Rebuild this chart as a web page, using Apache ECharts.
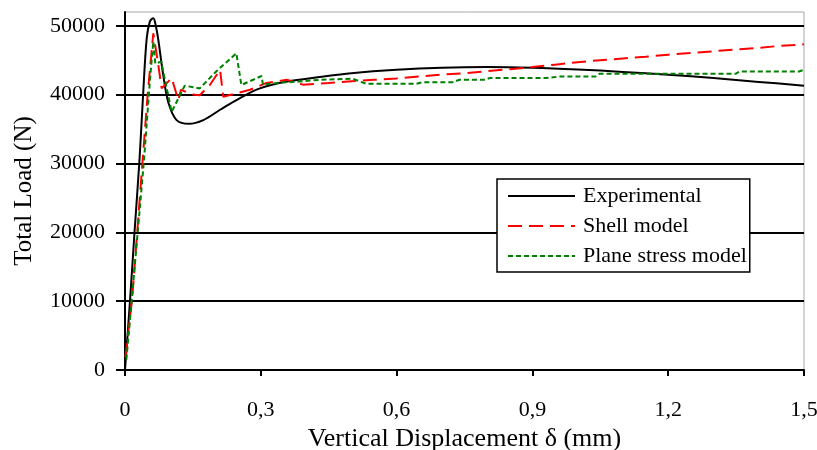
<!DOCTYPE html>
<html>
<head>
<meta charset="utf-8">
<script src="https://cdn.jsdelivr.net/npm/echarts@6/dist/echarts.min.js"></script>
<style>html,body{margin:0;padding:0;background:#fff}#c{width:817px;height:450px}</style>
</head>
<body>
<div id="c"></div>
<script>
const seriesNames = ['Experimental', 'Shell model', 'Plane stress model'];
const xTicks = [0, 0.3, 0.6, 0.9, 1.2, 1.5];
const yTicks = [0, 10000, 20000, 30000, 40000, 50000];

const expX = [0, 0.011, 0.021, 0.032, 0.040, 0.048, 0.055, 0.0625, 0.068, 0.0737, 0.085, 0.096, 0.114, 0.1413, 0.173, 0.21, 0.254, 0.298, 0.358, 0.43, 0.5, 0.6, 0.7, 0.8, 0.9, 1.0, 1.1, 1.2, 1.3, 1.4, 1.5];
const expY = [0, 10000, 20000, 30500, 40000, 48200, 50600, 51100, 50000, 47900, 42600, 38800, 36300, 35760, 36300, 37800, 39500, 40900, 41900, 42550, 43100, 43600, 43900, 44000, 43900, 43650, 43300, 42900, 42400, 41850, 41300];

const shellX = [0.001, 0.016, 0.039, 0.05, 0.0625, 0.072, 0.081, 0.103, 0.118, 0.1235, 0.15, 0.165, 0.1875, 0.21, 0.217, 0.246, 0.276, 0.3125, 0.357, 0.393, 0.45, 0.5, 0.55, 0.6, 0.65, 0.7, 0.75, 0.8, 0.85, 0.9, 0.95, 1.0, 1.05, 1.1, 1.15, 1.2, 1.25, 1.3, 1.35, 1.4, 1.45, 1.5];
const shellY = [1900, 10500, 30500, 40000, 48900, 45000, 40900, 42400, 39200, 40700, 40000, 39900, 41400, 43600, 39700, 40200, 40700, 41700, 42150, 41450, 41700, 41950, 42150, 42350, 42650, 42900, 43100, 43400, 43700, 44000, 44350, 44700, 45000, 45250, 45500, 45800, 46050, 46300, 46550, 46800, 47100, 47300];

const planeX = [0.003, 0.015, 0.042, 0.055, 0.0625, 0.067, 0.08, 0.103, 0.132, 0.165, 0.202, 0.246, 0.257, 0.3015, 0.305, 0.335, 0.386, 0.43, 0.503, 0.533, 0.643, 0.658, 0.724, 0.739, 0.798, 0.805, 0.93, 0.96, 1.04, 1.048, 1.349, 1.357, 1.489, 1.5];
const planeY = [1500, 10200, 30500, 42000, 47700, 44500, 44800, 37500, 41300, 40900, 43400, 46000, 41400, 42700, 41400, 41700, 41900, 42150, 42300, 41570, 41570, 41810, 41810, 42150, 42150, 42400, 42400, 42630, 42630, 43020, 43020, 43360, 43360, 43600];

const zip = (xs, ys) => xs.map((x, i) => [x, ys[i]]);
const FONT = 'Liberation Serif';

const chart = echarts.init(document.getElementById('c'));
chart.setOption({
  animation: false,
  backgroundColor: '#fff',
  grid: { left: 125, right: 13, top: 12, bottom: 80, show: true, borderColor: '#a6a6a6', borderWidth: 1, backgroundColor: 'transparent',
    outerBoundsMode: 'none', containLabel: false },
  xAxis: {
    type: 'value', min: xTicks[0], max: xTicks[xTicks.length - 1], interval: xTicks[1] - xTicks[0],
    name: 'Vertical Displacement δ (mm)', nameLocation: 'middle', nameGap: 56,
    nameTextStyle: { fontFamily: FONT, fontSize: 26, color: '#000' },
    axisLine: { lineStyle: { color: '#000', width: 2 } },
    axisTick: { show: true, length: 6, lineStyle: { color: '#000', width: 2 } },
    axisLabel: { fontFamily: FONT, fontSize: 22, color: '#000', margin: 29,
      formatter: v => v === 0 ? '0' : v.toFixed(1).replace('.', ',') },
    splitLine: { show: false }
  },
  yAxis: {
    type: 'value', min: yTicks[0], max: 52000, interval: yTicks[1] - yTicks[0],
    name: 'Total Load (N)', nameLocation: 'middle', nameGap: 88,
    nameTextStyle: { fontFamily: FONT, fontSize: 25, color: '#000' },
    axisLine: { lineStyle: { color: '#000', width: 2 } },
    axisTick: { show: true, length: 9, lineStyle: { color: '#000', width: 2 } },
    axisLabel: { fontFamily: FONT, fontSize: 22, color: '#000', margin: 20, showMaxLabel: false,
      formatter: v => (yTicks.indexOf(v) >= 0 ? String(v) : '') },
    splitLine: { show: true, showMaxLine: false, lineStyle: { color: '#000', width: 2 } }
  },
  legend: {
    orient: 'vertical', left: 497, top: 179,
    padding: [6, 3, 5, 10], itemGap: 8, itemWidth: 67, itemHeight: 14,
    backgroundColor: '#fff', borderColor: '#000', borderWidth: 1.5,
    itemStyle: { opacity: 0 },
    textStyle: { fontFamily: FONT, fontSize: 22, color: '#000', lineHeight: 22, padding: [0, 0, 0, 3] },
    data: seriesNames
  },
  series: [
    { name: seriesNames[0], type: 'line', data: zip(expX, expY), showSymbol: false, symbol: 'none', smooth: 0.35,
      lineStyle: { color: '#000', width: 2 }, itemStyle: { color: '#000' }, z: 3 },
    { name: seriesNames[1], type: 'line', data: zip(shellX, shellY), showSymbol: false, symbol: 'none',
      lineStyle: { color: '#ff0000', width: 2, type: [14, 7] }, itemStyle: { color: '#ff0000' }, z: 4 },
    { name: seriesNames[2], type: 'line', data: zip(planeX, planeY), showSymbol: false, symbol: 'none',
      lineStyle: { color: '#008000', width: 2, type: [5, 3] }, itemStyle: { color: '#008000' }, z: 5 }
  ]
});
</script>
</body>
</html>
